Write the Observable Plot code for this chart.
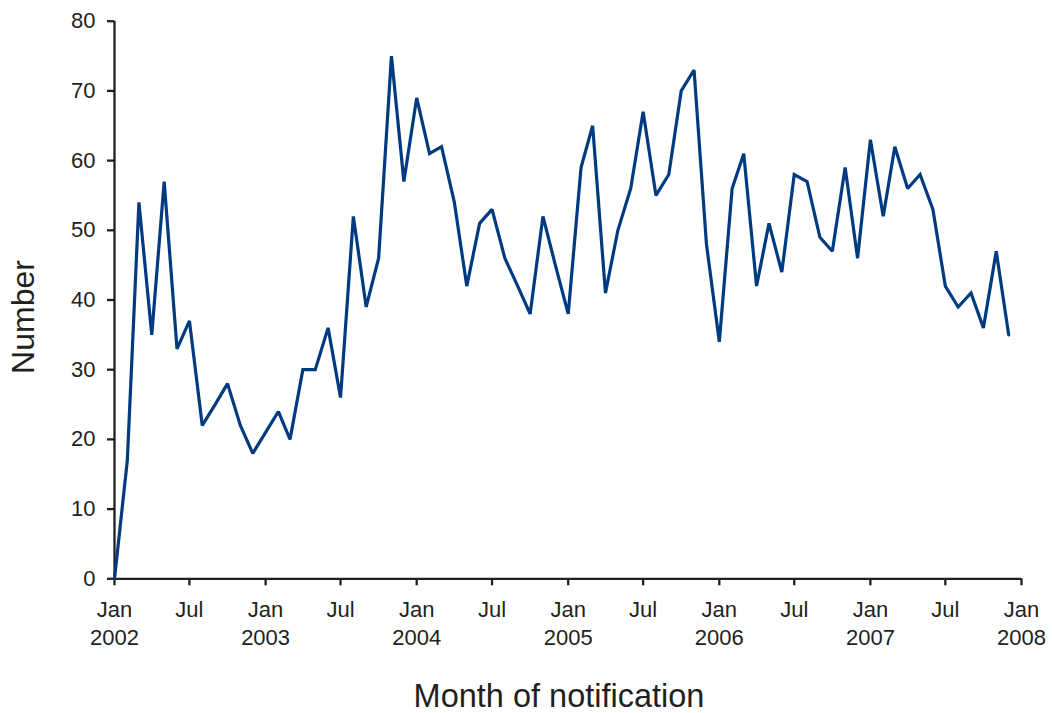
<!DOCTYPE html>
<html>
<head>
<meta charset="utf-8">
<script src="https://cdn.jsdelivr.net/npm/d3@7"></script>
<script src="https://cdn.jsdelivr.net/npm/@observablehq/plot@0.6"></script>
<style>
  html, body { margin: 0; padding: 0; background: #ffffff; }
  #chart svg { display: block; }
</style>
</head>
<body>
<div id="chart"></div>
<script>
// Monthly notifications, Jan–Dec of each year
const years = [2002, 2003, 2004, 2005, 2006, 2007];
const counts2002 = [0, 17, 54, 35, 57, 33, 37, 22, 25, 28, 22, 18];
const counts2003 = [21, 24, 20, 30, 30, 36, 26, 52, 39, 46, 75, 57];
const counts2004 = [69, 61, 62, 54, 42, 51, 53, 46, 42, 38, 52, 45];
const counts2005 = [38, 59, 65, 41, 50, 56, 67, 55, 58, 70, 73, 48];
const counts2006 = [34, 56, 61, 42, 51, 44, 58, 57, 49, 47, 59, 46];
const counts2007 = [63, 52, 62, 56, 58, 53, 42, 39, 41, 36, 47, 35];

// Axis ticks
const yTicks = [0, 10, 20, 30, 40, 50, 60, 70, 80];
const tickYears = [2002, 2003, 2004, 2005, 2006, 2007, 2008];
const tickMonthNames = ["Jan", "Jul"];

const xLabel = "Month of notification";
const yLabel = "Number";

// Build the table
const countsByYear = [counts2002, counts2003, counts2004, counts2005, counts2006, counts2007];
const data = [];
years.forEach((yr, yi) => {
  countsByYear[yi].forEach((v, m) => {
    data.push({ date: new Date(Date.UTC(yr, m, 1)), value: v });
  });
});

const xTicks = [];
tickYears.forEach((yr, i) => {
  xTicks.push(new Date(Date.UTC(yr, 0, 1)));
  if (i < tickYears.length - 1) xTicks.push(new Date(Date.UTC(yr, 6, 1)));
});
const fmtTick = (d) => d.getUTCMonth() === 0
  ? tickMonthNames[0] + "\n" + d.getUTCFullYear()
  : tickMonthNames[1];

const ink = "#231f20";
const font = "'Liberation Sans', Arial, Helvetica, sans-serif";

const chart = Plot.plot({
  width: 1052,
  height: 713,
  marginLeft: 114,
  marginRight: 31,
  marginTop: 20.7,
  marginBottom: 134.7,
  style: { fontFamily: font, fontSize: "22px", color: ink, background: "#ffffff" },
  x: { type: "utc", domain: [new Date(Date.UTC(2002, 0, 1)), new Date(Date.UTC(2008, 0, 1))] },
  y: { domain: [0, 80] },
  marks: [
    Plot.axisY({
      ticks: yTicks, tickSize: 7, tickPadding: 12, label: null,
      fontSize: 22, stroke: ink, strokeWidth: 2.3, fill: ink
    }),
    Plot.axisX({
      ticks: xTicks, tickFormat: fmtTick, tickSize: 7, tickPadding: 10.7,
      lineHeight: 1.3, label: null,
      fontSize: 22, stroke: ink, strokeWidth: 2.3, fill: ink
    }),
    Plot.ruleY([0], { stroke: ink, strokeWidth: 2.3 }),
    Plot.ruleX([new Date(Date.UTC(2002, 0, 1))], { stroke: ink, strokeWidth: 2.3 }),
    Plot.line(data, {
      x: "date", y: "value", stroke: "#003a80", strokeWidth: 3.2,
      strokeLinejoin: "miter", strokeMiterlimit: 2
    }),
    Plot.text([yLabel], {
      frameAnchor: "left", rotate: -90, dx: -91, dy: 17,
      fontSize: 32, fill: ink, lineAnchor: "middle", textAnchor: "middle"
    }),
    Plot.text([xLabel], {
      frameAnchor: "bottom", dx: -9, dy: 118,
      fontSize: 32.5, fill: ink, lineAnchor: "middle", textAnchor: "middle"
    })
  ]
});

document.getElementById("chart").appendChild(chart);
</script>
</body>
</html>
